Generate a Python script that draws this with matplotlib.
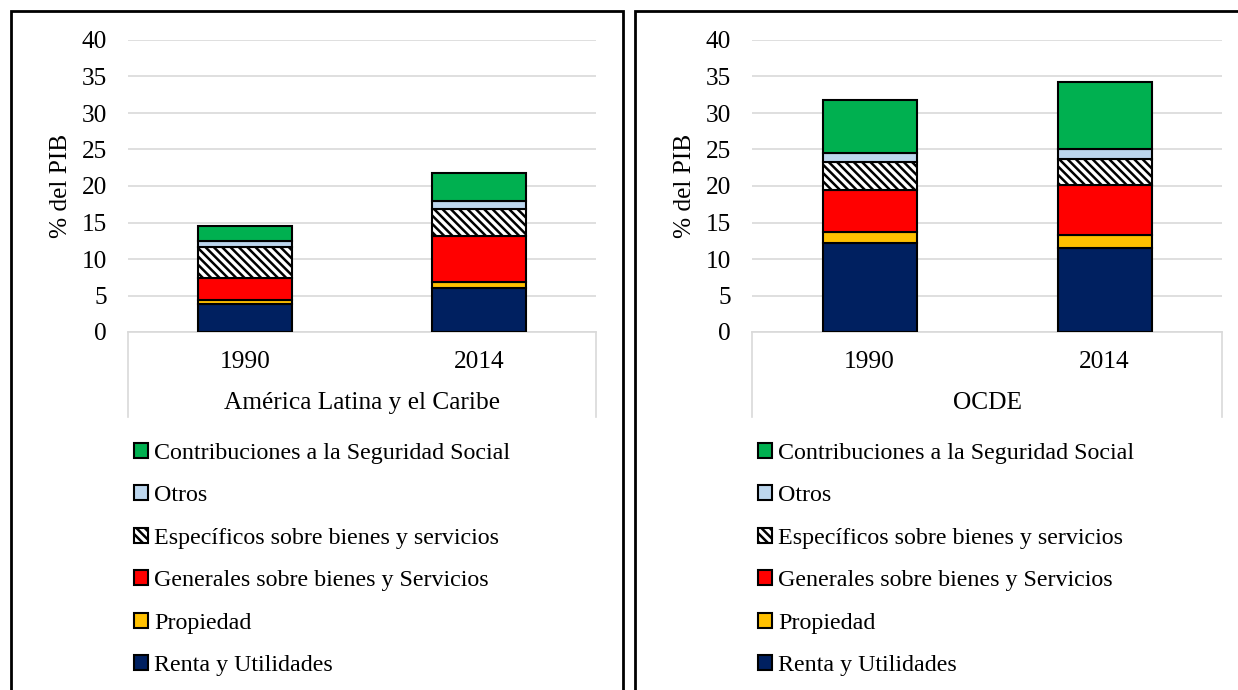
import numpy as np
import matplotlib.pyplot as plt
from matplotlib.patches import Rectangle
from matplotlib.lines import Line2D

plt.rcParams['font.family'] = ['Liberation Serif', 'DejaVu Serif']
plt.rcParams['hatch.linewidth'] = 1.8
plt.rcParams['hatch.color'] = '#1a1a1a'

# Datos (% del PIB)
years = ['1990', '2014']
groups = ['América Latina y el Caribe', 'OCDE']
categories = ['Renta y Utilidades', 'Propiedad', 'Generales sobre bienes y Servicios',
              'Específicos sobre bienes y servicios', 'Otros',
              'Contribuciones a la Seguridad Social']
alc = {
    'Renta y Utilidades': [3.8, 6.0],
    'Propiedad': [0.6, 0.85],
    'Generales sobre bienes y Servicios': [3.0, 6.35],
    'Específicos sobre bienes y servicios': [4.2, 3.7],
    'Otros': [0.9, 1.1],
    'Contribuciones a la Seguridad Social': [2.0, 3.8],
}
ocde = {
    'Renta y Utilidades': [12.2, 11.5],
    'Propiedad': [1.5, 1.8],
    'Generales sobre bienes y Servicios': [5.7, 6.8],
    'Específicos sobre bienes y servicios': [3.9, 3.6],
    'Otros': [1.2, 1.4],
    'Contribuciones a la Seguridad Social': [7.3, 9.1],
}
colors = ['#002060', '#FFC000', '#FF0000', 'white', '#BDD7EE', '#00B050']
hatches = [None, None, None, '\\\\\\\\', None, None]

W, H = 1238, 690
fig = plt.figure(figsize=(W / 100, H / 100), dpi=100)

# marcos de los paneles
fig.patches.append(Rectangle((11 / W, -0.05), 612 / W, 1.05 - 11 / H, transform=fig.transFigure,
                             fill=False, edgecolor='black', linewidth=2))
fig.patches.append(Rectangle((635 / W, -0.05), 0.6, 1.05 - 11 / H, transform=fig.transFigure,
                             fill=False, edgecolor='black', linewidth=2))

fs = 17.3
fs_ax = 18.3
for x0, width, data, group in [(128, 468, alc, groups[0]), (752, 470, ocde, groups[1])]:
    ax = fig.add_axes([x0 / W, 1 - 332 / H, width / W, 292 / H])
    x = np.arange(len(years))
    bottom = np.zeros(len(years))
    for cat, col, h in zip(categories, colors, hatches):
        vals = np.array(data[cat])
        ax.bar(x, vals, 0.4, bottom=bottom, color=col, edgecolor='black', linewidth=1.5,
               hatch=h, label=cat, zorder=3)
        bottom += vals
    ax.set_xlim(-0.5, 1.5)
    ax.set_ylim(0, 40)
    ax.set_yticks(np.arange(0, 41, 5))
    ax.yaxis.grid(True, color='#D9D9D9', linewidth=1.2, zorder=0)
    for s in ['top', 'right', 'left']:
        ax.spines[s].set_visible(False)
    ax.spines['bottom'].set_color('#D9D9D9')
    ax.spines['bottom'].set_linewidth(1.2)
    ax.set_xticks(x)
    ax.set_xticklabels(years)
    ax.tick_params(axis='both', length=0, labelsize=fs_ax)
    ax.tick_params(axis='y', pad=15)
    ax.tick_params(axis='x', pad=14)
    ax.set_ylabel('% del PIB', fontsize=fs_ax, labelpad=7)
    # caja del eje de categorías
    for xv in (0, 1):
        ax.add_line(Line2D([xv, xv], [0, -85 / 292], transform=ax.transAxes, color='#D9D9D9',
                           linewidth=1.2, clip_on=False))
    ax.text(0.5, -71 / 292, group, transform=ax.transAxes, ha='center', va='center', fontsize=fs_ax)
    handles, labels = ax.get_legend_handles_labels()
    ax.legend(handles[::-1], labels[::-1], loc='upper left',
              bbox_to_anchor=((x0 + 6) / W, 1 - 443 / H), bbox_transform=fig.transFigure,
              frameon=False, fontsize=fs, handlelength=0.58, handleheight=0.58,
              handletextpad=0.25, labelspacing=0.89, borderaxespad=0, borderpad=0)

fig.savefig('out.png', dpi=100)
